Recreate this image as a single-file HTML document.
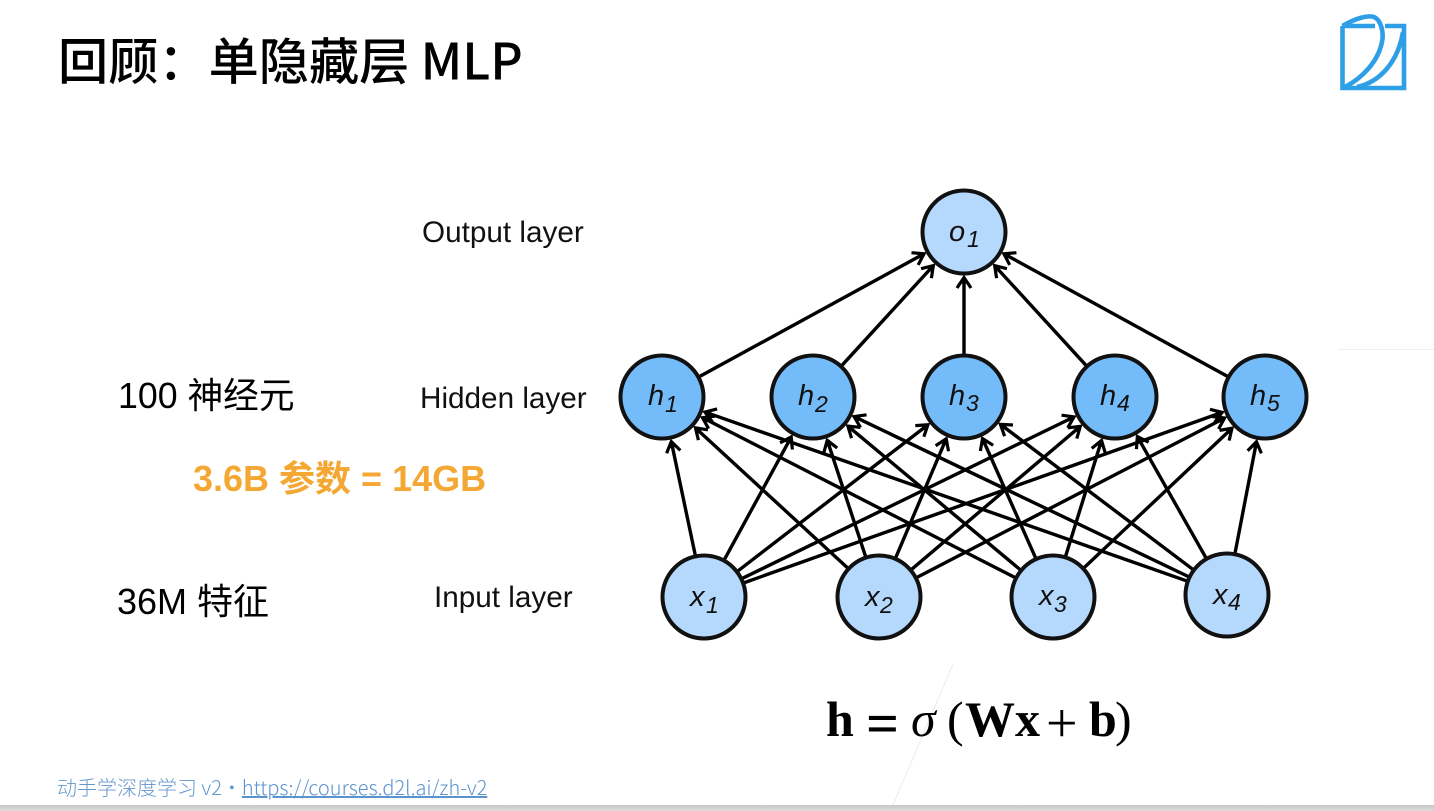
<!DOCTYPE html>
<html lang="zh">
<head>
<meta charset="utf-8">
<title>回顾：单隐藏层 MLP</title>
<style>
html,body{margin:0;padding:0;background:#fff;width:1434px;height:811px;overflow:hidden}
svg{display:block;position:absolute;left:0;top:0}
.cjk{font-family:"Noto Sans CJK SC","Liberation Sans",sans-serif}
.sans{font-family:"Liberation Sans","Noto Sans CJK SC",sans-serif}
.serif{font-family:"Liberation Serif",serif}
.lbl{font-size:29.7px;fill:#111}
.big{font-size:36px;fill:#000}
.n{font-family:"Liberation Sans",sans-serif;font-style:italic;font-size:29px;fill:#111}
.s{font-size:23px}
.edges line{stroke:#000;stroke-width:3.4;marker-end:url(#a)}
.nodes circle{stroke:#111;stroke-width:4}
.h{fill:#74BBFA}
.x{fill:#B5D8FD}
</style>
</head>
<body>
<svg width="1434" height="811" viewBox="0 0 1434 811" xmlns="http://www.w3.org/2000/svg">
<defs>
<marker id="a" markerUnits="userSpaceOnUse" markerWidth="24" markerHeight="24" refX="13" refY="12" orient="auto">
<path d="M3 5 L13.5 12 L3 19" fill="none" stroke="#000" stroke-width="3.2"/>
<path d="M5 12 L9 9 L13 12 L9 15 Z" fill="#000"/>
</marker>
<linearGradient id="bar" x1="0" y1="0" x2="0" y2="1">
<stop offset="0" stop-color="#c6c6c6"/><stop offset="1" stop-color="#dcdcdc"/>
</linearGradient>
</defs>

<rect x="0" y="805" width="1434" height="6" fill="url(#bar)"/>
<line x1="953" y1="664" x2="893" y2="805" stroke="#ececec" stroke-width="1"/>
<line x1="1338" y1="349.5" x2="1434" y2="349.5" stroke="#f0f0f0" stroke-width="1"/>

<text x="58" y="79.5" class="cjk" font-size="50.2" font-weight="500" fill="#000">回顾：单隐藏层 MLP</text>

<g fill="none" stroke="#2E9FE6" stroke-width="4.6">
<path d="M1342.5 26 V88 H1404 V26 H1385"/>
<path d="M1342.5 26 H1375"/>
<path d="M1342.5 26 C1356 18 1368 15 1374 17 C1381 20 1384 32 1382 42 C1378 62 1362 78 1345 87"/>
<path d="M1357 87 C1380 82 1398 62 1403 32"/>
</g>

<g class="edges">
<line x1="695.2" y1="554.9" x2="671.4" y2="442"/>
<line x1="724.6" y1="559.2" x2="791" y2="437.4"/>
<line x1="738.1" y1="570.8" x2="927.5" y2="425.1"/>
<line x1="742.7" y1="578.2" x2="1073.6" y2="417.1"/>
<line x1="744.5" y1="582.6" x2="1221.7" y2="412.5"/>
<line x1="847.4" y1="567.8" x2="695.8" y2="428.2"/>
<line x1="865.5" y1="556.2" x2="827.4" y2="440.7"/>
<line x1="895.8" y1="557.4" x2="946" y2="439.3"/>
<line x1="911.8" y1="569.2" x2="1079.9" y2="426.7"/>
<line x1="917.2" y1="577.2" x2="1224.2" y2="418.2"/>
<line x1="1014.7" y1="577.4" x2="702.9" y2="417.9"/>
<line x1="1020" y1="569.5" x2="848.3" y2="426.4"/>
<line x1="1035.5" y1="557.7" x2="982.7" y2="439"/>
<line x1="1065.7" y1="555.9" x2="1101.4" y2="440.9"/>
<line x1="1084.3" y1="567.5" x2="1231.6" y2="428.6"/>
<line x1="1186.4" y1="580.8" x2="705.4" y2="412.2"/>
<line x1="1188.2" y1="576.5" x2="854.5" y2="416.8"/>
<line x1="1192.6" y1="569.2" x2="1000.8" y2="424.6"/>
<line x1="1205.8" y1="557.6" x2="1137.6" y2="437"/>
<line x1="1235.1" y1="552.8" x2="1256.4" y2="442.2"/>
<line x1="699.8" y1="376.4" x2="923.6" y2="254"/>
<line x1="842" y1="365.3" x2="933" y2="266"/>
<line x1="964" y1="354" x2="964" y2="278"/>
<line x1="1086" y1="365.3" x2="995" y2="266"/>
<line x1="1227.3" y1="376.3" x2="1004.3" y2="254"/>
</g>

<g class="nodes">
<circle class="x" cx="964" cy="232" r="41.5"/>
<circle class="h" cx="662" cy="397" r="41.5"/>
<circle class="h" cx="813" cy="397" r="41.5"/>
<circle class="h" cx="964" cy="397" r="41.5"/>
<circle class="h" cx="1115" cy="397" r="41.5"/>
<circle class="h" cx="1265" cy="397" r="41.5"/>
<circle class="x" cx="704" cy="597" r="41.5"/>
<circle class="x" cx="879" cy="597" r="41.5"/>
<circle class="x" cx="1053" cy="597" r="41.5"/>
<circle class="x" cx="1227" cy="595" r="41.5"/>
</g>

<text x="949" y="241" class="n">o</text><text x="967" y="247" class="n s">1</text>
<text x="648" y="405" class="n">h</text><text x="665" y="412" class="n s">1</text>
<text x="798" y="405" class="n">h</text><text x="815" y="412" class="n s">2</text>
<text x="949" y="405" class="n">h</text><text x="966" y="411" class="n s">3</text>
<text x="1100" y="405" class="n">h</text><text x="1117" y="411" class="n s">4</text>
<text x="1250" y="405" class="n">h</text><text x="1267" y="411" class="n s">5</text>
<text x="690" y="606" class="n">x</text><text x="706" y="613" class="n s">1</text>
<text x="865" y="606" class="n">x</text><text x="880" y="613" class="n s">2</text>
<text x="1039" y="605" class="n">x</text><text x="1054" y="612" class="n s">3</text>
<text x="1213" y="604" class="n">x</text><text x="1228" y="610" class="n s">4</text>

<text x="422" y="242" class="sans lbl">Output layer</text>
<text x="420" y="408" class="sans lbl">Hidden layer</text>
<text x="434" y="607" class="sans lbl">Input layer</text>

<text x="118" y="408" class="sans big" style="font-size:35.7px">100 神经元</text>
<text x="193" y="491" class="sans big" font-weight="700" style="fill:#F5A733">3.6B 参数 = 14GB</text>
<text x="117" y="614" class="sans big">36M 特征</text>

<g class="serif" fill="#000">
<text x="826" y="736" font-size="50" font-weight="700">h</text>
<text x="866" y="743" font-size="58" font-weight="700">=</text>
<text x="911" y="736" font-size="50" font-style="italic">σ</text>
<text x="947" y="736" font-size="50">(</text>
<text x="965" y="736" font-size="50" font-weight="700">Wx</text>
<text x="1046" y="742" font-size="56">+</text>
<text x="1089" y="736" font-size="50" font-weight="700">b</text>
<text x="1115" y="736" font-size="50">)</text>
</g>

<text x="57" y="795" class="cjk" font-size="20" font-weight="300" fill="#6497CE">动手学深度学习 v2・<tspan text-decoration="underline" fill="#5B93CF">https://courses.d2l.ai/zh-v2</tspan></text>
</svg>
</body>
</html>
